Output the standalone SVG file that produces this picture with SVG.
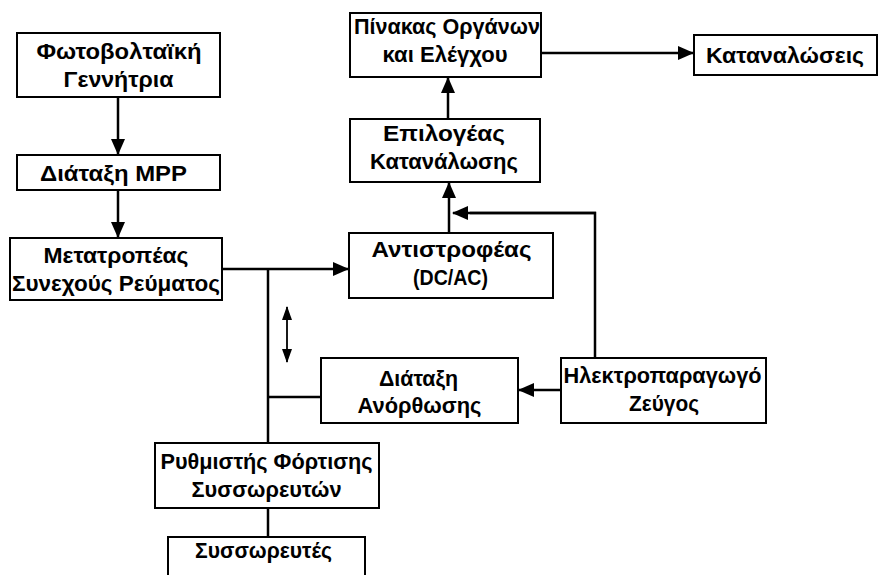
<svg xmlns="http://www.w3.org/2000/svg" width="881" height="575" viewBox="0 0 881 575">
<style>
.box{fill:#fff;stroke:#000;stroke-width:2}
.t{font-family:"Liberation Sans",Arial,sans-serif;font-weight:bold;font-size:22px;text-anchor:middle;fill:#000}
.c{fill:none;stroke:#000;stroke-width:2.5}
.ca{fill:none;stroke:#000;stroke-width:2.5;marker-end:url(#ah)}
.d{fill:none;stroke:#000;stroke-width:1.8;marker-start:url(#sh);marker-end:url(#sh)}
</style>
<defs>
<marker id="ah" markerUnits="userSpaceOnUse" markerWidth="16" markerHeight="14" refX="15" refY="7" orient="auto">
<path d="M0,0 L16,7 L0,14 Z" fill="#000"/>
</marker>
<marker id="sh" markerUnits="userSpaceOnUse" markerWidth="14" markerHeight="10" refX="13" refY="5" orient="auto-start-reverse">
<path d="M0,0 L14,5 L0,10 Z" fill="#000"/>
</marker>
</defs>
<rect width="881" height="575" fill="#fff"/>
<g id="connectors">
<path class="ca" d="M118,97 V154"/>
<path class="ca" d="M118,190 V237"/>
<path class="ca" d="M222,269 H348"/>
<path class="c" d="M268,269 V443"/>
<path class="c" d="M268,397 H321"/>
<path class="ca" d="M561,390 H519"/>
<path class="c" d="M595,358 V213 H470"/>
<path class="ca" d="M596,213 H453"/>
<path class="ca" d="M449,233 V183"/>
<path class="ca" d="M448,119 V78"/>
<path class="ca" d="M541,53 H693"/>
<path class="c" d="M268,508 V537"/>
<path class="d" d="M287,307 V362"/>
</g>
<g id="pv">
<rect class="box" x="17" y="33" width="203" height="64"/>
<text class="t" x="119" y="59" textLength="165" lengthAdjust="spacingAndGlyphs">Φωτοβολταϊκή</text>
<text class="t" x="118.5" y="87" textLength="110" lengthAdjust="spacingAndGlyphs">Γεννήτρια</text>
</g>
<g id="mpp">
<rect class="box" x="17" y="155" width="203" height="35"/>
<text class="t" x="113.5" y="181" textLength="147" lengthAdjust="spacingAndGlyphs">Διάταξη MPP</text>
</g>
<g id="dcdc">
<rect class="box" x="10" y="238" width="212" height="62"/>
<text class="t" x="116" y="263" textLength="145" lengthAdjust="spacingAndGlyphs">Μετατροπέας</text>
<text class="t" x="116" y="291" textLength="208" lengthAdjust="spacingAndGlyphs">Συνεχούς Ρεύματος</text>
</g>
<g id="inverter">
<rect class="box" x="349" y="233" width="204" height="65"/>
<text class="t" x="451.5" y="257" textLength="160" lengthAdjust="spacingAndGlyphs">Αντιστροφέας</text>
<text class="t" x="450.5" y="285" textLength="75" lengthAdjust="spacingAndGlyphs">(DC/AC)</text>
</g>
<g id="selector">
<rect class="box" x="350" y="119" width="190" height="63"/>
<text class="t" x="444" y="141" textLength="122" lengthAdjust="spacingAndGlyphs">Επιλογέας</text>
<text class="t" x="444" y="169" textLength="148" lengthAdjust="spacingAndGlyphs">Κατανάλωσης</text>
</g>
<g id="panel">
<rect class="box" x="350" y="13" width="191" height="64"/>
<text class="t" x="447" y="34" textLength="186" lengthAdjust="spacingAndGlyphs">Πίνακας Οργάνων</text>
<text class="t" x="445" y="62" textLength="125" lengthAdjust="spacingAndGlyphs">και Ελέγχου</text>
</g>
<g id="loads">
<rect class="box" x="694" y="35" width="183" height="40"/>
<text class="t" x="785" y="63" textLength="158" lengthAdjust="spacingAndGlyphs">Καταναλώσεις</text>
</g>
<g id="rectifier">
<rect class="box" x="321" y="358" width="197" height="65"/>
<text class="t" x="418.5" y="386" textLength="79" lengthAdjust="spacingAndGlyphs">Διάταξη</text>
<text class="t" x="419.5" y="413" textLength="124" lengthAdjust="spacingAndGlyphs">Ανόρθωσης</text>
</g>
<g id="genset">
<rect class="box" x="561" y="358" width="205" height="65"/>
<text class="t" x="662.5" y="383" textLength="198" lengthAdjust="spacingAndGlyphs">Ηλεκτροπαραγωγό</text>
<text class="t" x="664" y="411" textLength="70" lengthAdjust="spacingAndGlyphs">Ζεύγος</text>
</g>
<g id="charger">
<rect class="box" x="155" y="443" width="224" height="65"/>
<text class="t" x="266.5" y="469" textLength="212" lengthAdjust="spacingAndGlyphs">Ρυθμιστής Φόρτισης</text>
<text class="t" x="266.5" y="497" textLength="150" lengthAdjust="spacingAndGlyphs">Συσσωρευτών</text>
</g>
<g id="battery">
<rect class="box" x="168" y="537" width="197" height="50"/>
<text class="t" x="263.5" y="558" textLength="137" lengthAdjust="spacingAndGlyphs">Συσσωρευτές</text>
</g>
</svg>
